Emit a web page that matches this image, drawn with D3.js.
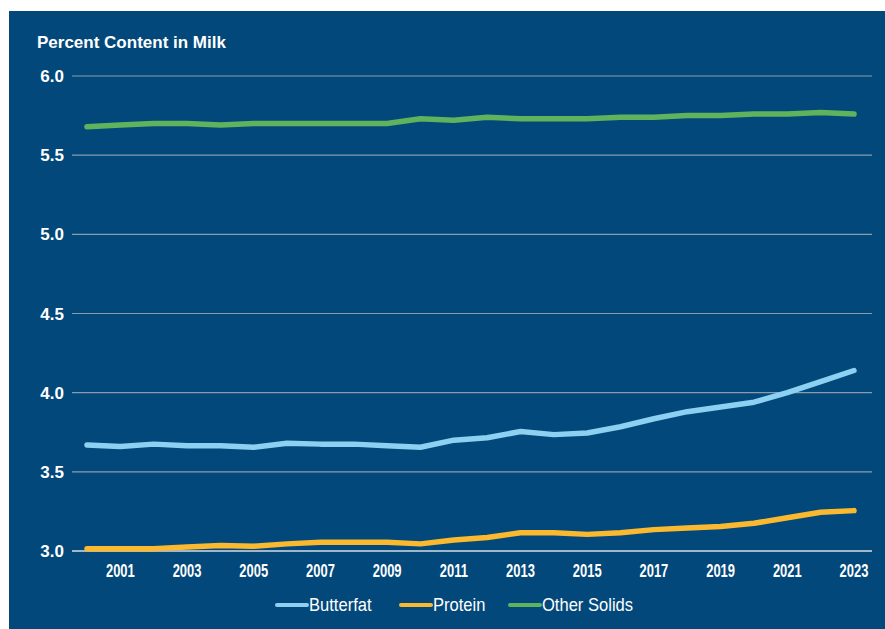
<!DOCTYPE html>
<html>
<head>
<meta charset="utf-8">
<script src="https://cdn.jsdelivr.net/npm/d3@7"></script>
<style>
  body { margin: 0; background: #fff; }
  svg { display: block; }
</style>
</head>
<body>
<div id="chart"></div>
<script>
// Data ////////////////////////////////////////////////////////////////////
const years = d3.range(2000, 2024);
const butterfat = [3.67, 3.66, 3.675, 3.665, 3.665, 3.655, 3.68, 3.675, 3.675, 3.665, 3.655, 3.70,
                   3.715, 3.755, 3.735, 3.745, 3.785, 3.835, 3.88, 3.91, 3.94, 4.00, 4.07, 4.14];
const protein = [3.015, 3.015, 3.015, 3.025, 3.035, 3.03, 3.045, 3.055, 3.055, 3.055, 3.045, 3.07,
                 3.085, 3.115, 3.115, 3.105, 3.115, 3.135, 3.145, 3.155, 3.175, 3.21, 3.245, 3.255];
const otherSolids = [5.68, 5.69, 5.70, 5.70, 5.69, 5.70, 5.70, 5.70, 5.70, 5.70, 5.73, 5.72,
                     5.74, 5.73, 5.73, 5.73, 5.74, 5.74, 5.75, 5.75, 5.76, 5.76, 5.77, 5.76];
const yTicks = [3.0, 3.5, 4.0, 4.5, 5.0, 5.5, 6.0];
const xTicks = [2001, 2003, 2005, 2007, 2009, 2011, 2013, 2015, 2017, 2019, 2021, 2023];
const seriesNames = ['Butterfat', 'Protein', 'Other Solids'];
const seriesColors = ['#8dd0f2', '#fbb92f', '#5fb35d'];
const seriesValues = [butterfat, protein, otherSolids];

// Chart ///////////////////////////////////////////////////////////////////
const width = 885, height = 629;
const bg = '#02487a';

const svg = d3.select('#chart').append('svg')
  .attr('width', width)
  .attr('height', height);

svg.append('rect')
  .attr('x', 9).attr('y', 11)
  .attr('width', width - 9).attr('height', height - 11)
  .attr('fill', bg);

const x = d3.scaleLinear().domain([2000, 2023]).range([87, 854]);
const y = d3.scaleLinear().domain([3, 6]).range([551, 76]);

// gridlines
svg.append('g')
  .selectAll('line')
  .data(yTicks)
  .enter().append('line')
  .attr('x1', 72).attr('x2', 872)
  .attr('y1', d => y(d)).attr('y2', d => y(d))
  .attr('stroke', d => d === 3 ? '#d6dde6' : '#8a9bb0')
  .attr('stroke-width', d => d === 3 ? 1.5 : 1.2);

// y axis labels
svg.append('g')
  .selectAll('text')
  .data(yTicks)
  .enter().append('text')
  .attr('x', 64)
  .attr('y', d => y(d))
  .attr('dy', '0.36em')
  .attr('text-anchor', 'end')
  .attr('fill', '#fff')
  .attr('font-family', 'Liberation Sans, Arial, sans-serif')
  .attr('font-weight', 'bold')
  .attr('font-size', 17)
  .text(d => d.toFixed(1));

// x axis labels (condensed look via horizontal scale)
svg.append('g')
  .selectAll('text')
  .data(xTicks)
  .enter().append('text')
  .attr('transform', d => `translate(${x(d)},577) scale(0.72,1)`)
  .attr('text-anchor', 'middle')
  .attr('fill', '#fff')
  .attr('font-family', 'Liberation Sans, Arial, sans-serif')
  .attr('font-weight', 'bold')
  .attr('font-size', 18)
  .text(d => d);

// title
svg.append('text')
  .attr('x', 37).attr('y', 48)
  .attr('fill', '#fff')
  .attr('font-family', 'Liberation Sans, Arial, sans-serif')
  .attr('font-weight', 'bold')
  .attr('font-size', 17)
  .text('Percent Content in Milk');

// lines
const line = d3.line()
  .x((d, i) => x(years[i]))
  .y(d => y(d));

svg.append('g')
  .selectAll('path')
  .data(seriesValues)
  .enter().append('path')
  .attr('d', d => line(d))
  .attr('fill', 'none')
  .attr('stroke', (d, i) => seriesColors[i])
  .attr('stroke-width', 5.5)
  .attr('stroke-linecap', 'round')
  .attr('stroke-linejoin', 'round');

// legend
const legendX = [277, 401, 510];
const legend = svg.append('g')
  .selectAll('g')
  .data(seriesNames)
  .enter().append('g')
  .attr('transform', (d, i) => `translate(${legendX[i]},605)`);

legend.append('line')
  .attr('x1', 0).attr('x2', 30)
  .attr('stroke', (d, i) => seriesColors[i])
  .attr('stroke-width', 4)
  .attr('stroke-linecap', 'round');

legend.append('text')
  .attr('transform', 'translate(32,0) scale(0.92,1)')
  .attr('dy', '0.36em')
  .attr('fill', '#fff')
  .attr('font-family', 'Liberation Sans, Arial, sans-serif')
  .attr('font-size', 18)
  .text(d => d);
</script>
</body>
</html>
